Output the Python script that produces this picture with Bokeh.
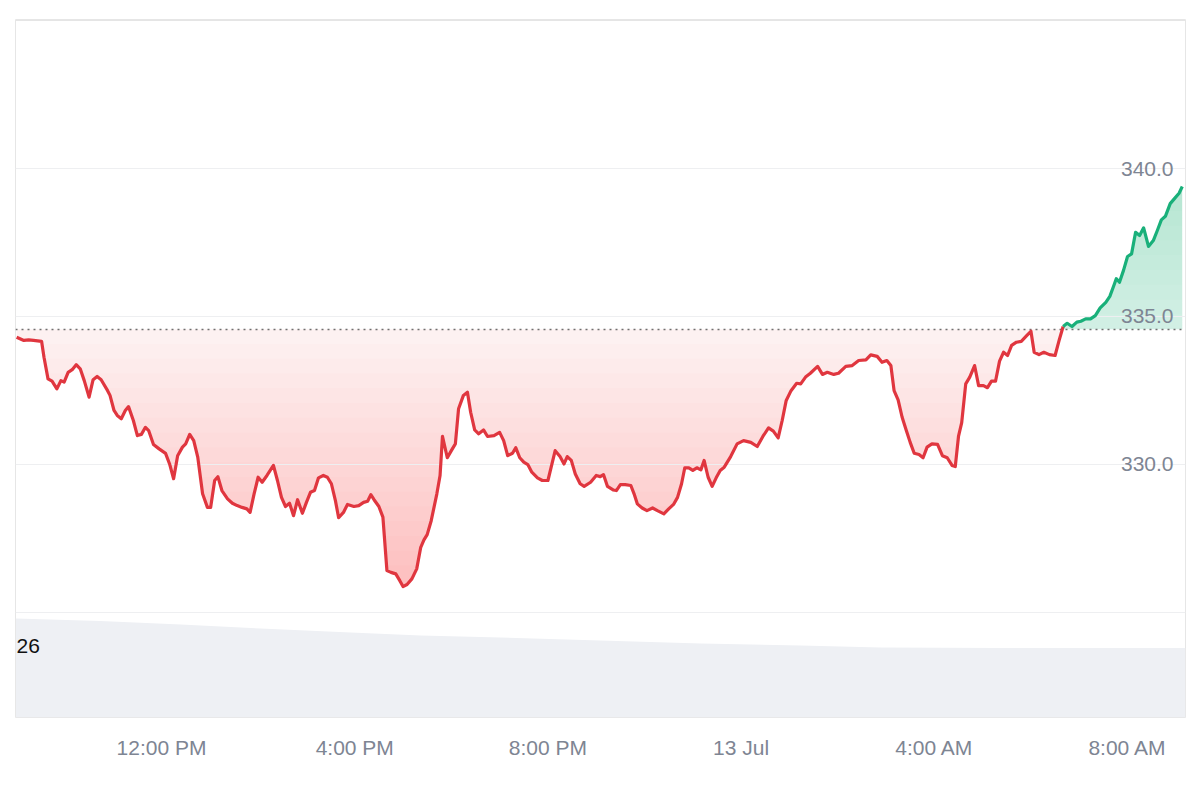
import numpy as np
import pandas as pd
from bokeh.plotting import figure
from bokeh.models import Range1d, FixedTicker, CustomJSTickFormatter
from bokeh.core.properties import value
from bokeh.embed import file_html
from bokeh.resources import INLINE

# ---------------- data ----------------
DAY0 = pd.Timestamp("2024-07-12")          # minutes below are counted from this midnight

minutes = [540, 549, 555, 561, 571, 574, 579, 584, 590, 595, 599, 604, 609, 614, 619, 624, 630, 635, 640, 645,
           653, 656, 661, 665, 670, 675, 679, 685, 690, 695, 700, 704, 710, 717, 725, 730, 735, 740, 746, 750,
           755, 760, 765, 771, 777, 781, 786, 790, 795, 802, 808, 814, 820, 826,
           830, 835, 840, 845, 851, 859, 864, 869, 874, 879, 884, 889, 895, 900, 905, 910, 915, 921, 926, 931,
           936, 940, 946, 951, 959, 965, 971, 976, 980, 984, 990, 995, 1000, 1005, 1011, 1016, 1020, 1025, 1031, 1037,
           1042, 1046, 1050, 1055, 1062, 1066, 1069, 1075, 1080, 1085, 1089, 1095, 1100, 1104, 1109, 1114,
           1120, 1125, 1133, 1140, 1145, 1150, 1156, 1160, 1165, 1170, 1175, 1180, 1187, 1193, 1200, 1205, 1209, 1215,
           1220, 1224, 1229, 1234, 1240, 1245, 1253, 1260, 1265, 1269, 1274, 1281, 1285, 1290, 1296, 1303, 1307, 1311,
           1317, 1323, 1330, 1336, 1344, 1350, 1356, 1361, 1366, 1370, 1375, 1380, 1385, 1390, 1394, 1399, 1404, 1409, 1414,
           1419, 1427, 1435, 1443, 1452, 1460, 1467, 1474, 1480, 1486, 1491, 1496, 1502, 1509, 1514, 1520, 1526, 1535,
           1541, 1547, 1555, 1561, 1570, 1578, 1586, 1595, 1601, 1609, 1615, 1621, 1626, 1630, 1635, 1640, 1645, 1650,
           1655, 1661, 1666, 1671, 1677, 1684, 1690, 1696, 1702, 1706,
           1710, 1714, 1719, 1724, 1730, 1735, 1741, 1746, 1751, 1756, 1761, 1766, 1771, 1776, 1782, 1788, 1795, 1800,
           1804, 1810, 1816, 1823, 1830, 1835, 1840,
           1845, 1851, 1857, 1862, 1868, 1874, 1880, 1886, 1893, 1898, 1903, 1906, 1910, 1915, 1920, 1925, 1930, 1935,
           1940, 1946, 1952, 1957, 1962, 1967, 1973, 1978, 1984, 1988]

prices = [334.30, 334.19, 334.21, 334.19, 334.16, 333.62, 332.89, 332.81, 332.55, 332.83, 332.78, 333.11, 333.20,
          333.37, 333.23, 332.83, 332.27, 332.86, 332.97, 332.86, 332.49, 332.33, 331.82, 331.65, 331.54, 331.82,
          331.95, 331.48, 330.97, 331.01, 331.25, 331.14, 330.67, 330.52, 330.37, 330.01, 329.51, 330.29, 330.58,
          330.69, 331.01, 330.80, 330.24, 329.00, 328.54, 328.54, 329.45, 329.58, 329.11, 328.83, 328.68, 328.60,
          328.54, 328.49,
          328.37, 329.00, 329.56, 329.39, 329.62, 329.96, 329.45, 328.88, 328.57, 328.68, 328.26, 328.80, 328.34,
          328.71, 329.05, 329.11, 329.54, 329.62, 329.56, 329.34, 328.77, 328.19, 328.37, 328.64, 328.57, 328.60,
          328.71, 328.75, 328.97, 328.80, 328.57, 328.21, 326.40, 326.34, 326.29, 326.06, 325.86, 325.93, 326.12,
          326.46, 327.19, 327.44, 327.62, 328.09, 329.00, 329.62, 330.94, 330.22, 330.46, 330.69, 331.88, 332.33,
          332.44, 331.76, 331.16, 331.03,
          331.16, 330.94, 330.97, 331.08, 330.80, 330.29, 330.37, 330.56, 330.22, 330.07, 329.99, 329.73, 329.54,
          329.45, 329.45, 330.01, 330.46, 330.26, 330.01, 330.26, 330.13, 329.67, 329.34, 329.25, 329.39, 329.62,
          329.58, 329.65, 329.25, 329.13, 329.11, 329.31, 329.31, 329.28, 329.00, 328.66, 328.52, 328.43, 328.52,
          328.43, 328.32, 328.49, 328.64, 328.88, 329.34, 329.88, 329.88, 329.79, 329.88, 329.81, 330.13, 329.56,
          329.25, 329.54, 329.79,
          329.90, 330.26, 330.69, 330.80, 330.74, 330.60, 330.94, 331.23, 331.12, 330.89, 331.48, 332.16, 332.49,
          332.74, 332.72, 332.95, 333.08, 333.31, 333.04, 333.11, 333.04, 333.08, 333.31, 333.34, 333.51, 333.53,
          333.70, 333.65, 333.45, 333.51, 333.34, 332.49, 332.18, 331.59, 331.16, 330.74, 330.37, 330.33, 330.22,
          330.58, 330.69, 330.67, 330.29, 330.22, 329.96, 329.92,
          330.94, 331.41, 332.72, 332.95, 333.34, 332.66, 332.66, 332.59, 332.81, 332.81, 333.49, 333.79, 333.68,
          334.02, 334.13, 334.16, 334.36, 334.50, 333.79, 333.71, 333.79, 333.71, 333.68, 334.19, 334.66,
          334.77, 334.66, 334.81, 334.84, 334.92, 334.92, 335.03, 335.29, 335.48, 335.68, 336.05, 336.28, 336.16,
          336.56, 337.03, 337.12, 337.85, 337.74, 338.00, 337.37, 337.57, 337.91, 338.27, 338.39, 338.82, 338.98,
          339.17, 339.40]

baseline_price = 334.57                       # reference (24h ago) price, dotted line

vol_minutes = [539, 644, 744, 843, 955, 1042, 1141, 1265, 1390, 1514, 1613, 1762, 1886, 1992]
volume = [36.25, 35.33, 34.05, 32.59, 31.12, 30.03, 29.29, 28.19, 27.10, 26.36, 25.63, 25.45, 25.45, 25.45]
volume_label_value = 26

y_tick_values = [330.0, 335.0, 340.0]
x_tick_minutes = [720, 960, 1200, 1440, 1680, 1920]
x_start_minute = 538.6
x_end_minute = 1992.0

# ---------------- derived ----------------
def to_time(mins):
    return DAY0 + pd.to_timedelta(np.asarray(mins, dtype=float), unit="m")

t = to_time(minutes)
pr = np.asarray(prices)
below = np.where(pr < baseline_price)[0]
split = int(below[-1]) + 1                    # first point at/after the final crossing
red_t, red_p = t[:split + 1], pr[:split + 1]
green_t, green_p = t[split:], pr[split:]

x0 = to_time([x_start_minute])[0]
x1 = to_time([x_end_minute])[0]

RED = "#e0363f"
GREEN = "#19b07a"
LABEL = "#7e8593"
FONT = "Liberation Sans"

p = figure(width=1192, height=792, x_axis_type="datetime",
           x_range=Range1d(x0, x1), y_range=Range1d(321.43, 345.05),
           output_backend="svg", toolbar_location=None, y_axis_location=None,
           min_border_left=15, min_border_right=7, min_border_top=19, min_border_bottom=75)
p.extra_y_ranges = {"vol": Range1d(0, 255.6)}
p.xgrid.visible = False
p.background_fill_color = "white"
p.border_fill_color = "white"
p.outline_line_color = "#e6e6e6"

# volume pane
p.varea(x=to_time(vol_minutes), y1=0, y2=volume, fill_color="#eef0f4", y_range_name="vol")

# red gradient fill (below baseline)
step = 0.5
n_red = int(np.ceil((baseline_price - red_p.min()) / step)) + 1
for k in range(n_red):
    lvl = baseline_price - k * step
    a = 0.07 if k == 0 else 0.016
    p.varea(x=red_t, y1=np.minimum(red_p, lvl), y2=np.full(len(red_p), lvl),
            fill_color=RED, fill_alpha=a)

# green gradient fill (above baseline)
n_green = int(np.ceil((green_p.max() - baseline_price) / step)) + 1
for k in range(n_green):
    lvl = baseline_price + k * step
    a = 0.2 if k == 0 else 0.012
    p.varea(x=green_t, y1=np.full(len(green_p), lvl), y2=np.maximum(green_p, lvl),
            fill_color=GREEN, fill_alpha=a)

# grid lines
p.hspan(y=[325.0] + y_tick_values, line_color="#eeeff1", line_width=1)
# baseline
p.hspan(y=[baseline_price], line_color="#707070", line_width=1.5, line_dash="2 4")

# price lines
p.line(red_t, red_p, line_color=RED, line_width=3.2, line_join="round")
p.line(green_t, green_p, line_color=GREEN, line_width=3.2, line_join="round")

# y labels inside the plot
p.text(x=[x1] * len(y_tick_values), y=y_tick_values, text=[f"{v:.1f}" for v in y_tick_values],
       text_align="right", text_baseline="middle", x_offset=-12,
       text_font=value(FONT), text_font_size="21px", text_color=LABEL)

# volume label
p.text(x=[x0], y=[volume_label_value], text=[str(volume_label_value)], y_range_name="vol",
       text_align="left", text_baseline="middle", x_offset=1,
       text_font=value(FONT), text_font_size="21px", text_color="#111111")

# x axis
tick_ms = [(DAY0 + pd.Timedelta(minutes=m)).timestamp() * 1000 for m in x_tick_minutes]
p.xaxis.ticker = FixedTicker(ticks=tick_ms)
p.xaxis.formatter = CustomJSTickFormatter(code="""
const d = new Date(tick);
const h = d.getUTCHours(), m = d.getUTCMinutes();
const months = ["Jan","Feb","Mar","Apr","May","Jun","Jul","Aug","Sep","Oct","Nov","Dec"];
if (h === 0 && m === 0) { return d.getUTCDate() + " " + months[d.getUTCMonth()]; }
const hh = (h % 12 === 0) ? 12 : h % 12;
return hh + ":" + String(m).padStart(2, "0") + " " + (h < 12 ? "AM" : "PM");
""")
p.xaxis.axis_line_color = None
p.xaxis.major_tick_line_color = None
p.xaxis.minor_tick_line_color = None
p.xaxis.major_label_standoff = 12
p.xaxis.major_label_text_font = FONT
p.xaxis.major_label_text_font_size = "21px"
p.xaxis.major_label_text_color = LABEL

open("out.html", "w").write(file_html(p, INLINE))
